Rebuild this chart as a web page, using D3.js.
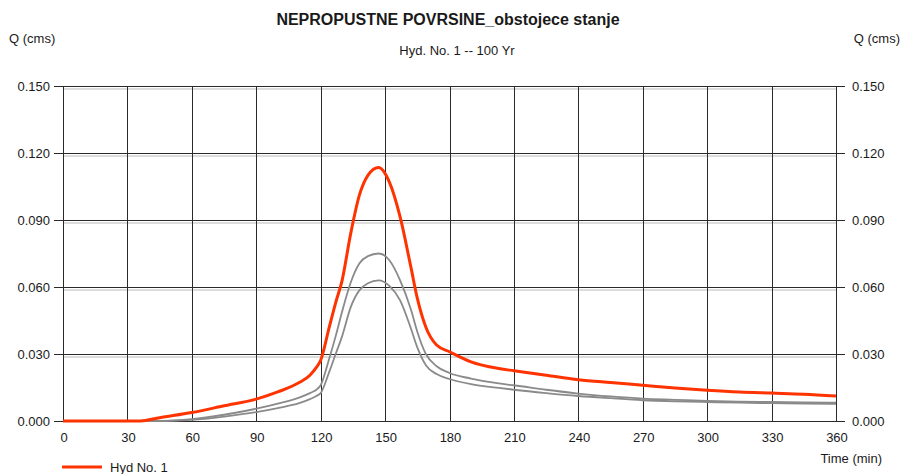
<!DOCTYPE html>
<html>
<head>
<meta charset="utf-8">
<script src="https://cdn.jsdelivr.net/npm/d3@7"></script>
<style>
  body { margin: 0; background: #fff; }
  svg text { font-family: "Liberation Sans", Arial, sans-serif; fill: #1a1a1a; }
  .title { font-size: 16px; font-weight: bold; }
  .subtitle { font-size: 13px; }
  .tick { font-size: 13px; }
</style>
</head>
<body>
<div id="chart"></div>
<script>
(function() {

  // time (min)
  var times = [0, 30, 36, 45, 60, 75, 90, 100, 110, 115, 118, 120, 124, 127, 130, 134, 138, 142, 147,
    152, 157, 162, 165, 169, 174, 180, 190, 203, 210, 225, 240, 255, 270, 285, 300, 315, 330, 345, 360];

  // Q (cms) -- Hyd No. 1
  var hyd1 = [0, 0, 0, 0.0015, 0.0038, 0.0068, 0.0098, 0.013, 0.0172, 0.0205, 0.024, 0.0272, 0.042, 0.053,
    0.063, 0.084, 0.101, 0.110, 0.1135, 0.107, 0.0914, 0.069, 0.055, 0.042, 0.034, 0.031, 0.0265, 0.0235,
    0.0225, 0.0205, 0.0185, 0.0172, 0.016, 0.0148, 0.0138, 0.013, 0.0125, 0.012, 0.0112];

  // grey hydrographs
  var grayUpper = [0, 0, 0, 0, 0.0008, 0.0028, 0.0055, 0.0078, 0.0105, 0.0125, 0.014, 0.016, 0.028, 0.038,
    0.049, 0.062, 0.0705, 0.0738, 0.075, 0.072, 0.063, 0.050, 0.040, 0.030, 0.0245, 0.0215, 0.019, 0.0168,
    0.016, 0.014, 0.0123, 0.011, 0.010, 0.0095, 0.009, 0.0087, 0.0085, 0.0083, 0.0082];

  var grayLower = [0, 0, 0, 0, 0.0005, 0.002, 0.004, 0.0058, 0.008, 0.0098, 0.0112, 0.0125, 0.022, 0.030,
    0.038, 0.051, 0.0585, 0.0617, 0.063, 0.0605, 0.054, 0.0415, 0.033, 0.025, 0.021, 0.0188, 0.0165, 0.0148,
    0.014, 0.0125, 0.0112, 0.0102, 0.0093, 0.0088, 0.0085, 0.0082, 0.008, 0.0078, 0.0077];

  var xTicks = [0, 30, 60, 90, 120, 150, 180, 210, 240, 270, 300, 330, 360];
  var yTicks = [0, 0.03, 0.06, 0.09, 0.12, 0.15];

  var width = 903, height = 474;
  var pad = { top: 86, left: 63, right: 67, bottom: 53 };
  var tickLen = 9;

  var svg = d3.select("#chart").append("svg")
    .attr("width", width)
    .attr("height", height);

  var x = d3.scaleLinear().domain([0, 360]).range([pad.left, width - pad.right]);
  var y = d3.scaleLinear().domain([0, 0.15]).range([height - pad.bottom, pad.top]);

  // light shadow lines under each horizontal grid line
  svg.append("g").selectAll("line")
    .data(yTicks.slice(1))
    .enter().append("line")
    .attr("x1", x(0)).attr("x2", x(360))
    .attr("y1", function(d) { return Math.round(y(d)) + 3; })
    .attr("y2", function(d) { return Math.round(y(d)) + 3; })
    .attr("stroke", "#dcdcdc")
    .attr("stroke-width", 2);

  // vertical grid
  svg.append("g").selectAll("line")
    .data(xTicks)
    .enter().append("line")
    .attr("x1", function(d) { return Math.round(x(d)) + 0.5; })
    .attr("x2", function(d) { return Math.round(x(d)) + 0.5; })
    .attr("y1", y(0.15)).attr("y2", y(0))
    .attr("stroke", "#2a2a2a");

  // horizontal grid, running out into tick marks on both sides
  svg.append("g").selectAll("line")
    .data(yTicks)
    .enter().append("line")
    .attr("x1", x(0) - tickLen).attr("x2", x(360) + tickLen)
    .attr("y1", function(d) { return Math.round(y(d)) + 0.5; })
    .attr("y2", function(d) { return Math.round(y(d)) + 0.5; })
    .attr("stroke", "#2a2a2a");

  var fmt = d3.format(".3f");

  // left and right axis labels
  svg.append("g").selectAll("text")
    .data(yTicks)
    .enter().append("text")
    .attr("class", "tick")
    .attr("x", x(0) - tickLen - 4)
    .attr("y", function(d) { return y(d) + 5; })
    .attr("text-anchor", "end")
    .text(fmt);

  svg.append("g").selectAll("text")
    .data(yTicks)
    .enter().append("text")
    .attr("class", "tick")
    .attr("x", x(360) + tickLen + 7)
    .attr("y", function(d) { return y(d) + 5; })
    .text(fmt);

  svg.append("g").selectAll("text")
    .data(xTicks)
    .enter().append("text")
    .attr("class", "tick")
    .attr("x", function(d) { return x(d) + 1; })
    .attr("y", y(0) + 21)
    .attr("text-anchor", "middle")
    .text(function(d) { return d; });

  var line = function(values) {
    return d3.line()
      .x(function(d, i) { return x(times[i]); })
      .y(function(d) { return y(d); })
      .curve(d3.curveMonotoneX)(values);
  };

  svg.append("path").attr("d", line(grayLower))
    .attr("fill", "none").attr("stroke", "#8a8a8a").attr("stroke-width", 1.8);
  svg.append("path").attr("d", line(grayUpper))
    .attr("fill", "none").attr("stroke", "#8a8a8a").attr("stroke-width", 1.8);
  svg.append("path").attr("d", line(hyd1))
    .attr("fill", "none").attr("stroke", "#ff3300").attr("stroke-width", 3);

  // titles
  svg.append("text").attr("class", "title")
    .attr("x", 448).attr("y", 25).attr("text-anchor", "middle")
    .text("NEPROPUSTNE  POVRSINE_obstojece stanje");
  svg.append("text").attr("class", "subtitle")
    .attr("x", 457).attr("y", 55).attr("text-anchor", "middle")
    .text("Hyd. No. 1 -- 100 Yr");
  svg.append("text").attr("class", "subtitle")
    .attr("x", 9).attr("y", 43)
    .text("Q (cms)");
  svg.append("text").attr("class", "subtitle")
    .attr("x", 900).attr("y", 43).attr("text-anchor", "end")
    .text("Q (cms)");
  svg.append("text").attr("class", "subtitle")
    .attr("x", 882).attr("y", 463).attr("text-anchor", "end")
    .text("Time (min)");

  // legend
  svg.append("line")
    .attr("x1", 62).attr("x2", 102).attr("y1", 467).attr("y2", 467)
    .attr("stroke", "#ff3300").attr("stroke-width", 3);
  svg.append("text").attr("class", "subtitle")
    .attr("x", 110).attr("y", 472)
    .text("Hyd No. 1");

})();
</script>
</body>
</html>
